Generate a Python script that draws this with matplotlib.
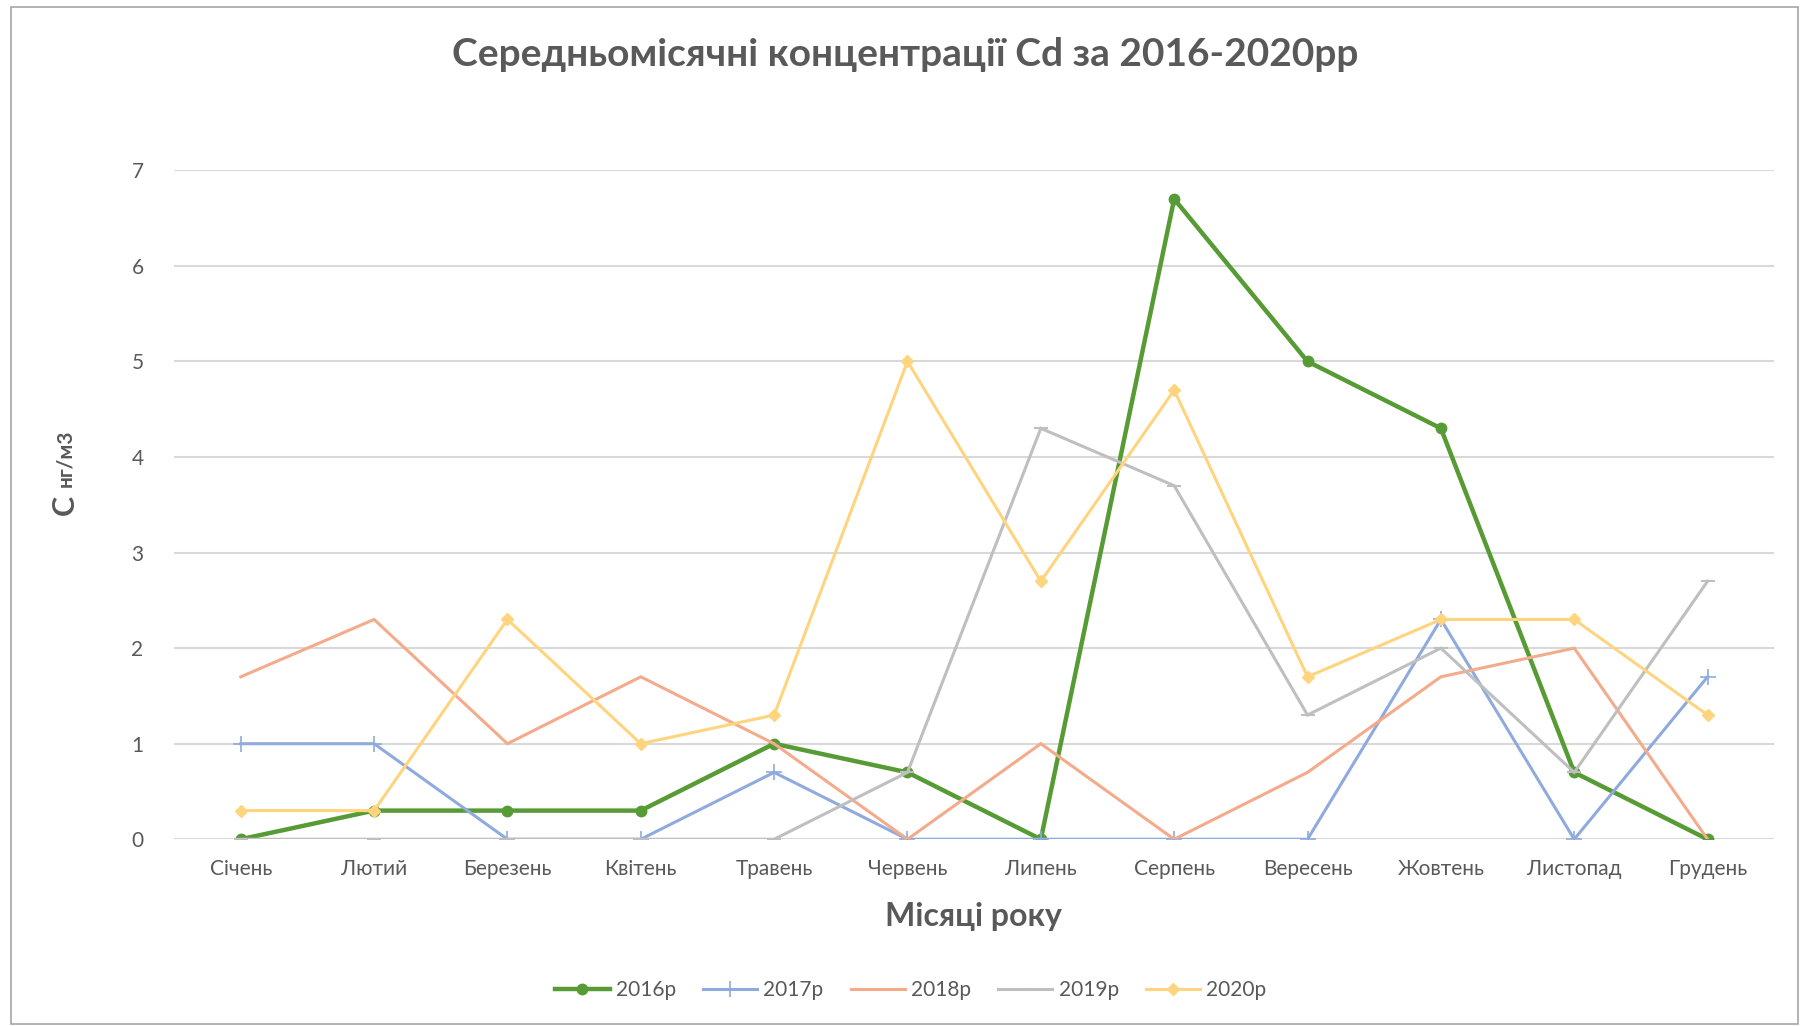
import matplotlib
matplotlib.use("Agg")
import matplotlib.pyplot as plt
from matplotlib.patches import Rectangle

plt.rcParams['font.family'] = ['Lato', 'DejaVu Sans']

months = ["Січень", "Лютий", "Березень", "Квітень", "Травень", "Червень",
          "Липень", "Серпень", "Вересень", "Жовтень", "Листопад", "Грудень"]
s2016 = [0, 0.3, 0.3, 0.3, 1.0, 0.7, 0, 6.7, 5.0, 4.3, 0.7, 0]
s2017 = [1.0, 1.0, 0, 0, 0.7, 0, 0, 0, 0, 2.3, 0, 1.7]
s2018 = [1.7, 2.3, 1.0, 1.7, 1.0, 0, 1.0, 0, 0.7, 1.7, 2.0, 0]
s2019 = [0, 0, 0, 0, 0, 0.7, 4.3, 3.7, 1.3, 2.0, 0.7, 2.7]
s2020 = [0.3, 0.3, 2.3, 1.0, 1.3, 5.0, 2.7, 4.7, 1.7, 2.3, 2.3, 1.3]
labels = ["2016р", "2017р", "2018р", "2019р", "2020р"]
yticks = [0, 1, 2, 3, 4, 5, 6, 7]

fig = plt.figure(figsize=(18, 10.26), dpi=100)
ax = fig.add_axes([0.0967, 0.182, 0.889, 0.652])

x = list(range(len(months)))
styles = [
    dict(color="#579B35", lw=3.2, marker="o", ms=7.5),
    dict(color="#8FAADC", lw=2.2, marker="+", ms=12, mew=1.2),
    dict(color="#F3AB8C", lw=2.2),
    dict(color="#BFBFBF", lw=2.2, marker="_", ms=10, mew=1.5),
    dict(color="#FFD47E", lw=2.2, marker="D", ms=6),
]
series = [s2016, s2017, s2018, s2019, s2020]
for i, (s, st, lab) in enumerate(zip(series, styles, labels)):
    ax.plot(x, s, label=lab, zorder=3 + i, solid_joinstyle="miter", **st)

ax.set_xlim(-0.5, len(months) - 0.5)
ax.set_ylim(0, 7)
ax.set_yticks(yticks)
ax.set_xticks(x)
ax.set_xticklabels(months)
ax.grid(axis="y", color="#D9D9D9", lw=1.5, zorder=0)
ax.set_axisbelow(True)
for sp in ax.spines.values():
    sp.set_visible(False)
ax.tick_params(axis="both", length=0, labelsize=15, colors="#595959", pad=14)
ax.tick_params(axis="y", pad=22)

fig.text(0.503, 0.947, "Середньомісячні концентрації Cd за 2016-2020рр",
         ha="center", va="center", fontsize=28, fontweight="bold", color="#595959")
fig.text(0.541, 0.107, "Місяці року", ha="center", va="center",
         fontsize=23, fontweight="bold", color="#595959")
fig.text(0.036, 0.508, "С", ha="center", va="center", rotation=90,
         fontsize=22, fontweight="bold", color="#595959")
fig.text(0.036, 0.553, "нг/м3", ha="center", va="center", rotation=90,
         fontsize=15, fontweight="bold", color="#595959")

leg = fig.legend(loc="center", bbox_to_anchor=(0.506, 0.035), ncol=5, frameon=False,
                 fontsize=15, handlelength=2.6, columnspacing=1.3, handletextpad=0.3)
for t in leg.get_texts():
    t.set_color("#595959")

fig.add_artist(Rectangle((0.006, 0.002), 0.993, 0.991, transform=fig.transFigure,
                         fill=False, edgecolor="#A6A6A6", lw=1.2))

fig.savefig("out.png", dpi=100, facecolor="white")
